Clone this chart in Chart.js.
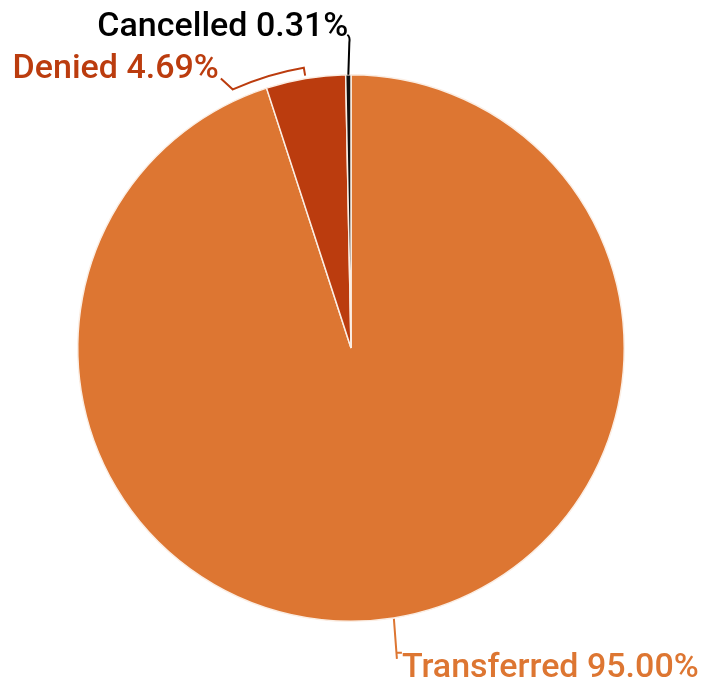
<!DOCTYPE html>
<html>
<head>
<meta charset="utf-8">
<script src="https://cdn.jsdelivr.net/npm/chart.js@4"></script>
<style>
  html, body { margin: 0; padding: 0; background: #fff; }
  #wrap { width: 701px; height: 683px; }
</style>
</head>
<body>
<div id="wrap"><canvas id="canvas" width="701" height="683"></canvas></div>
<script>
const labels = ['Transferred', 'Denied', 'Cancelled']
const shares = [95.00, 4.69, 0.31]
const colors = ['#dd7632', '#bb3c0e', '#111111']
const textColors = ['#dd7632', '#bb3c0e', '#000000']

const FONT = '500 34px Roboto'

// leader lines + labels, positioned from each arc's geometry
const leaderLabels = {
  id: 'leaderLabels',
  afterDatasetsDraw(chart) {
    const ctx = chart.ctx
    const arcs = chart.getDatasetMeta(0).data
    const polar = (arc, ang, r) => ({ x: arc.x + Math.cos(ang) * r, y: arc.y + Math.sin(ang) * r })
    ctx.save()
    ctx.font = FONT
    ctx.lineWidth = 2
    ctx.textBaseline = 'alphabetic'

    arcs.forEach((arc, i) => {
      const mid = (arc.startAngle + arc.endAngle) / 2
      const R = arc.outerRadius
      const text = labels[i] + ' ' + shares[i].toFixed(2) + '%'
      ctx.strokeStyle = textColors[i]
      ctx.fillStyle = textColors[i]
      ctx.beginPath()
      if (i === 0) {
        const p = polar(arc, mid, R + 1)
        ctx.moveTo(p.x, p.y)
        ctx.lineTo(p.x + 3, p.y + 40)
        ctx.moveTo(p.x + 3, p.y + 34)
        ctx.lineTo(p.x + 8, p.y + 34)
        ctx.stroke()
        ctx.textAlign = 'left'
        ctx.fillText(text, p.x + 8, p.y + 58)
      } else if (i === 1) {
        const a = polar(arc, mid, R + 3)
        const b = polar(arc, mid, R + 11)
        const endAng = mid - 15 * Math.PI / 180
        const c = polar(arc, endAng, R + 11)
        ctx.moveTo(a.x, a.y)
        ctx.lineTo(b.x, b.y)
        ctx.arc(arc.x, arc.y, R + 11, mid, endAng, true)
        ctx.lineTo(c.x - 12, c.y - 11)
        ctx.stroke()
        ctx.textAlign = 'right'
        ctx.fillText(text, c.x - 14, c.y - 11)
      } else {
        const p = polar(arc, mid, R)
        ctx.moveTo(p.x, p.y)
        ctx.lineTo(p.x + 1, p.y - 32)
        ctx.quadraticCurveTo(p.x + 2, p.y - 38, p.x - 1, p.y - 40)
        ctx.stroke()
        ctx.textAlign = 'right'
        ctx.fillText(text, p.x, p.y - 39)
      }
    })
    ctx.restore()
  }
}

const config = {
  type: 'pie',
  data: {
    labels: labels,
    datasets: [{
      data: shares,
      backgroundColor: colors,
      borderColor: '#fbeee4',
      borderWidth: 1.5,
    }],
  },
  options: {
    responsive: false,
    animation: false,
    layout: { padding: { top: 74, bottom: 61, left: 77, right: 76 } },
    plugins: {
      legend: { display: false },
      tooltip: { enabled: false },
    },
  },
  plugins: [leaderLabels],
}

const canvas = document.getElementById('canvas')
const chart = new Chart(canvas, config)
</script>
</body>
</html>
